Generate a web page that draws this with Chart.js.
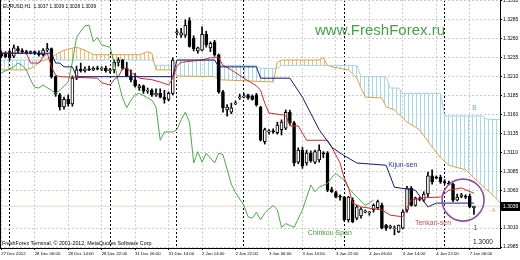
<!DOCTYPE html>
<html>
<head>
<meta charset="utf-8">
<script src="https://cdn.jsdelivr.net/npm/chart.js@4.4.1/dist/chart.umd.min.js"></script>
<style>
    html, body { margin: 0; padding: 0; background: #fff; overflow: hidden; }
    #wrap { width: 520px; height: 260px; }
</style>
</head>
<body>
<div id="wrap"><canvas id="chart" width="520" height="260"></canvas></div>
<script>
// EURUSD H1, bar 0 = 27 Dec 2012 22:00, last bar = 7 Jan 07:00
const OPEN = [
    1.3241, 1.3240, 1.3243, 1.3237, 1.3247, 1.3244, 1.3243, 1.3241, 1.3243, 1.3241,
    1.3239, 1.3245, 1.3247, 1.3210, 1.3186, 1.3170, 1.3180, 1.3174, 1.3208, 1.3220,
    1.3218, 1.3220, 1.3219, 1.3221, 1.3220, 1.3221, 1.3218, 1.3219, 1.3229, 1.3232,
    1.3221, 1.3211, 1.3206, 1.3195, 1.3198, 1.3191, 1.3192, 1.3186, 1.3188, 1.3183,
    1.3180, 1.3188, 1.3268, 1.3265, 1.3265, 1.3284, 1.3261, 1.3244, 1.3245, 1.3266,
    1.3248, 1.3256, 1.3239, 1.3190, 1.3166, 1.3163, 1.3174, 1.3182, 1.3183, 1.3186,
    1.3184, 1.3186, 1.3170, 1.3124, 1.3137, 1.3138, 1.3136, 1.3140, 1.3142, 1.3163,
    1.3149, 1.3097, 1.3113, 1.3096, 1.3109, 1.3097, 1.3100, 1.3109, 1.3109, 1.3061,
    1.3057, 1.3052, 1.3051, 1.3021, 1.3047, 1.3023, 1.3026, 1.3031, 1.3030, 1.3034,
    1.3037, 1.3040, 1.3014, 1.3011, 1.3009, 1.3005, 1.3010, 1.3034, 1.3063, 1.3040,
    1.3049, 1.3047, 1.3055, 1.3079, 1.3077, 1.3077, 1.3071, 1.3069, 1.3068, 1.3047,
    1.3052, 1.3052, 1.3052, 1.3037,
];
const HIGH = [
    1.3244, 1.3243, 1.3245, 1.3252, 1.3250, 1.3247, 1.3245, 1.3244, 1.3244, 1.3244,
    1.3247, 1.3254, 1.3248, 1.3211, 1.3188, 1.3183, 1.3186, 1.3211, 1.3224, 1.3228,
    1.3223, 1.3224, 1.3223, 1.3224, 1.3223, 1.3224, 1.3221, 1.3232, 1.3235, 1.3233,
    1.3229, 1.3219, 1.3214, 1.3200, 1.3199, 1.3195, 1.3194, 1.3194, 1.3194, 1.3192,
    1.3190, 1.3235, 1.3272, 1.3274, 1.3285, 1.3288, 1.3264, 1.3249, 1.3276, 1.3270,
    1.3256, 1.3258, 1.3240, 1.3192, 1.3173, 1.3175, 1.3178, 1.3187, 1.3188, 1.3187,
    1.3186, 1.3188, 1.3171, 1.3142, 1.3140, 1.3141, 1.3150, 1.3153, 1.3166, 1.3166,
    1.3151, 1.3116, 1.3117, 1.3113, 1.3112, 1.3113, 1.3120, 1.3111, 1.3111, 1.3064,
    1.3059, 1.3054, 1.3052, 1.3052, 1.3050, 1.3040, 1.3037, 1.3034, 1.3032, 1.3042,
    1.3047, 1.3043, 1.3015, 1.3014, 1.3013, 1.3014, 1.3034, 1.3065, 1.3065, 1.3051,
    1.3051, 1.3058, 1.3084, 1.3087, 1.3079, 1.3080, 1.3074, 1.3072, 1.3069, 1.3055,
    1.3056, 1.3054, 1.3055, 1.3039,
];
const LOW = [
    1.3235, 1.3235, 1.3232, 1.3235, 1.3241, 1.3241, 1.3240, 1.3240, 1.3239, 1.3237,
    1.3237, 1.3243, 1.3208, 1.3184, 1.3166, 1.3167, 1.3171, 1.3171, 1.3206, 1.3216,
    1.3216, 1.3218, 1.3218, 1.3219, 1.3218, 1.3216, 1.3215, 1.3215, 1.3224, 1.3219,
    1.3210, 1.3203, 1.3196, 1.3192, 1.3188, 1.3188, 1.3184, 1.3184, 1.3182, 1.3175,
    1.3178, 1.3186, 1.3265, 1.3262, 1.3262, 1.3249, 1.3244, 1.3241, 1.3244, 1.3249,
    1.3243, 1.3237, 1.3188, 1.3163, 1.3158, 1.3161, 1.3173, 1.3180, 1.3182, 1.3180,
    1.3179, 1.3171, 1.3125, 1.3121, 1.3134, 1.3135, 1.3134, 1.3133, 1.3140, 1.3146,
    1.3092, 1.3095, 1.3089, 1.3093, 1.3097, 1.3095, 1.3097, 1.3103, 1.3058, 1.3057,
    1.3050, 1.3047, 1.3019, 1.3018, 1.3017, 1.3021, 1.3023, 1.3030, 1.3027, 1.3031,
    1.3035, 1.3009, 1.3007, 1.3009, 1.3001, 1.3004, 1.3009, 1.3031, 1.3039, 1.3039,
    1.3046, 1.3045, 1.3051, 1.3068, 1.3075, 1.3069, 1.3068, 1.3067, 1.3045, 1.3046,
    1.3050, 1.3049, 1.3037, 1.3028,
];
const CLOSE = [
    1.3237, 1.3236, 1.3235, 1.3248, 1.3244, 1.3243, 1.3241, 1.3243, 1.3241, 1.3239,
    1.3245, 1.3247, 1.3210, 1.3187, 1.3170, 1.3180, 1.3174, 1.3208, 1.3219, 1.3218,
    1.3220, 1.3219, 1.3221, 1.3220, 1.3221, 1.3218, 1.3219, 1.3229, 1.3232, 1.3221,
    1.3211, 1.3206, 1.3198, 1.3198, 1.3191, 1.3192, 1.3186, 1.3188, 1.3183, 1.3180,
    1.3188, 1.3232, 1.3269, 1.3268, 1.3278, 1.3250, 1.3247, 1.3248, 1.3266, 1.3252,
    1.3254, 1.3239, 1.3190, 1.3169, 1.3170, 1.3169, 1.3174, 1.3183, 1.3184, 1.3182,
    1.3180, 1.3173, 1.3126, 1.3140, 1.3138, 1.3137, 1.3146, 1.3150, 1.3163, 1.3149,
    1.3096, 1.3113, 1.3092, 1.3109, 1.3099, 1.3111, 1.3113, 1.3108, 1.3060, 1.3058,
    1.3051, 1.3051, 1.3021, 1.3051, 1.3018, 1.3038, 1.3035, 1.3031, 1.3030, 1.3040,
    1.3045, 1.3010, 1.3010, 1.3011, 1.3009, 1.3014, 1.3031, 1.3063, 1.3040, 1.3050,
    1.3048, 1.3055, 1.3079, 1.3071, 1.3076, 1.3071, 1.3070, 1.3068, 1.3047, 1.3051,
    1.3054, 1.3051, 1.3038, 1.3039,
];

// Ichimoku lines as [bar, price] vertices
const TENKAN = [
    [0, 1.3241], [6, 1.3241], [7, 1.3228], [9, 1.3228], [10, 1.3236], [11, 1.3241], [12, 1.3223],
    [13, 1.3212], [14, 1.3210], [23, 1.3208], [24, 1.3202], [26, 1.3199], [27, 1.3206], [28, 1.3210],
    [29, 1.3221], [30, 1.3221], [31, 1.3216], [33, 1.3208], [36, 1.3206], [38, 1.3203], [40, 1.3199],
    [41, 1.3208], [42, 1.3224], [43, 1.3229], [48, 1.3232], [50, 1.3235], [52, 1.3235], [53, 1.3225],
    [55, 1.3219], [58, 1.3208], [61, 1.3198], [62, 1.3192], [63, 1.3175], [64, 1.3162], [68, 1.3159],
    [69, 1.3145], [71, 1.3145], [73, 1.3126], [78, 1.3126], [79, 1.3117], [81, 1.3096], [82, 1.3076],
    [83, 1.3064], [84, 1.3043], [86, 1.3038], [91, 1.3034], [93, 1.3027], [96, 1.3025], [97, 1.3037],
    [98, 1.3047], [101, 1.3050], [105, 1.3051], [107, 1.3060], [110, 1.3063], [113, 1.3056],
];
const KIJUN = [
    [0, 1.3241], [12, 1.3241], [13, 1.3228], [14, 1.3228], [15, 1.3223], [17, 1.3223], [18, 1.3210],
    [41, 1.3210], [42, 1.3232], [51, 1.3232], [52, 1.3223], [61, 1.3223], [62, 1.3208], [69, 1.3208],
    [72, 1.3183], [76, 1.3140], [79, 1.3117], [81, 1.3109], [85, 1.3096], [92, 1.3093], [94, 1.3064],
    [99, 1.3060], [102, 1.3038], [104, 1.3043], [113, 1.3043],
];
const SPAN_A = [
    [0, 1.3219], [6, 1.3219], [8, 1.3223], [9, 1.3229], [12, 1.3236], [13, 1.3239], [15, 1.3245],
    [18, 1.3249], [20, 1.3245], [22, 1.3239], [33, 1.3239], [35, 1.3243], [36, 1.3241], [37, 1.3219],
    [41, 1.3219], [42, 1.3211], [51, 1.3210], [52, 1.3206], [65, 1.3203], [66, 1.3229], [67, 1.3232],
    [76, 1.3232], [77, 1.3235], [78, 1.3225], [79, 1.3223], [83, 1.3219], [85, 1.3208], [86, 1.3195],
    [87, 1.3183], [91, 1.3182], [92, 1.3170], [94, 1.3166], [97, 1.3150], [100, 1.3140], [103, 1.3117],
    [105, 1.3103], [107, 1.3093], [111, 1.3087], [114, 1.3071], [118, 1.3051], [119.3, 1.3043],
];
const SPAN_B = [
    [0, 1.3232], [36, 1.3232], [37, 1.3225], [41, 1.3225], [42, 1.3232], [51, 1.3232], [52, 1.3225],
    [61, 1.3225], [62, 1.3221], [66, 1.3221], [67, 1.3225], [85, 1.3225], [86, 1.3210], [92, 1.3210],
    [93, 1.3195], [95, 1.3195], [96, 1.3188], [105, 1.3188], [106, 1.3158], [115, 1.3158],
    [116, 1.3154], [119.3, 1.3153],
];
const CHIKOU = [
    [0, 1.3215], [3, 1.3223], [4, 1.3228], [5, 1.3225], [6, 1.3219], [7, 1.3206], [8, 1.3196],
    [9, 1.3195], [10, 1.3199], [12, 1.3192], [13, 1.3188], [14, 1.3192], [16, 1.3203], [17, 1.3229],
    [18, 1.3262], [19, 1.3270], [20, 1.3277], [21, 1.3278], [22, 1.3256], [23, 1.3262], [24, 1.3252],
    [26, 1.3249], [27, 1.3229], [28, 1.3203], [29, 1.3182], [30, 1.3169], [31, 1.3179], [32, 1.3186],
    [33, 1.3188], [35, 1.3182], [36, 1.3179], [37, 1.3170], [38, 1.3126], [39, 1.3137], [41, 1.3137],
    [42, 1.3140], [43, 1.3153], [44, 1.3163], [45, 1.3150], [46, 1.3096], [47, 1.3111], [48, 1.3097],
    [49, 1.3109], [51, 1.3096], [52, 1.3109], [53, 1.3107], [55, 1.3068], [56, 1.3057], [58, 1.3040],
    [59, 1.3025], [60, 1.3023], [61, 1.3031], [62, 1.3021], [63, 1.3030], [65, 1.3040], [66, 1.3034],
    [67, 1.3011], [68, 1.3016], [70, 1.3011], [72, 1.3034], [74, 1.3067], [75, 1.3058], [76, 1.3064],
    [78, 1.3069], [79, 1.3077], [80, 1.3082], [82, 1.3073], [83, 1.3063], [85, 1.3051], [87, 1.3040],
    [88, 1.3043], [89, 1.3047],
];

const LAST_PRICE = 1.3039;
const Y_TICKS = [1.2985, 1.3010, 1.3060, 1.3085, 1.3110, 1.3135, 1.3160, 1.3185, 1.3210, 1.3235, 1.3260, 1.3285, 1.3310];
const X_TICK_BARS = [0, 8, 16, 24, 32, 40, 48, 56, 64, 72, 80, 88, 96, 104, 112];
const X_TICK_LABELS = [
    '27 Dec 2012', '28 Dec 06:00', '28 Dec 14:00', '28 Dec 22:00', '31 Dec 06:00', '31 Dec 14:00',
    '2 Jan 14:00', '2 Jan 22:00', '3 Jan 06:00', '3 Jan 14:00', '3 Jan 22:00', '4 Jan 06:00',
    '4 Jan 14:00', '4 Jan 22:00', '7 Jan 06:00',
];
const DAY_STARTS = [2, 26, 42, 58, 82, 106];

const HEADER = 'EURUSD,H1  1.3037 1.3039 1.3028 1.3039';
const FOOTER = 'FreshForex Terminal, \u00a9 2001-2012, MetaQuotes Software Corp.';

const FONT = '"Liberation Sans", Arial, sans-serif';
Chart.defaults.font.family = FONT;

function hatch( colour ) {
    const c = document.createElement( 'canvas' );
    c.width = 4;
    c.height = 4;
    const g = c.getContext( '2d' );
    g.fillStyle = colour;
    g.fillRect( 0, 0, 1, 4 );
    return g.createPattern( c, 'repeat' );
}

const pts = ( arr ) => arr.map( ( [ x, y ] ) => ( { x, y } ) );
const lineDs = ( label, data, colour, order ) => ( {
    type: 'line', label, data: pts( data ), borderColor: colour, borderWidth: 1,
    pointRadius: 0, tension: 0, fill: false, order,
} );

const overlay = {
    id: 'overlay',
    afterDraw( chart ) {
        const { ctx, chartArea: a, scales: { x, y } } = chart;
        const font = ( s ) => `${ s }px ${ FONT }`;
        ctx.save();

        // left edge of the chart frame
        ctx.fillStyle = '#000';
        ctx.fillRect( a.left, a.top, 1, a.bottom - a.top );

        ctx.textAlign = 'left';
        ctx.textBaseline = 'middle';
        ctx.font = font( 4.8 );
        ctx.fillText( HEADER, a.left + 3, a.top + 7 );
        ctx.font = font( 5.3 );
        ctx.fillText( FOOTER, a.left + 2, a.bottom - 4 );

        ctx.fillStyle = '#46a046';
        ctx.font = font( 15 );
        ctx.textBaseline = 'alphabetic';
        ctx.fillText( 'www.FreshForex.ru', a.left + 315, a.top + 35 );

        ctx.textBaseline = 'middle';
        const notes = [
            [ 'Kijun-sen', 92.5, 1.3093, '#2b3990', 7 ],
            [ 'Tenkan-sen', 98.9, 1.3016, '#c0504d', 7 ],
            [ 'Chinkou Span', 73.3, 1.3003, '#3d9e3d', 7 ],
            [ 'B', 112.6, 1.3169, '#62a8b8', 6.5 ],
            [ 'A', 117.2, 1.3034, '#d8a050', 6 ],
            [ '1', 112.9, 1.3010, '#444', 6.5 ],
            [ '1.3000', 112.8, 1.2992, '#222', 6.5 ],
        ];
        notes.forEach( ( [ t, bar, price, colour, size ] ) => {
            ctx.fillStyle = colour;
            ctx.font = font( size );
            ctx.fillText( t, x.getPixelForValue( bar ), y.getPixelForValue( price ) );
        } );

        // marker circle round the last bars
        ctx.strokeStyle = '#8b4f9e';
        ctx.lineWidth = 1.6;
        ctx.beginPath();
        ctx.arc( x.getPixelForValue( 110.4 ), y.getPixelForValue( 1.3047 ), 21, 0, Math.PI * 2 );
        ctx.stroke();

        // current price box on the price scale
        const py = Math.round( y.getPixelForValue( LAST_PRICE ) );
        ctx.fillStyle = '#000';
        ctx.fillRect( a.right + 1, py - 4, 19, 9 );
        ctx.fillStyle = '#fff';
        ctx.font = font( 5 );
        ctx.fillText( LAST_PRICE.toFixed( 4 ), a.right + 3, py + 0.5 );

        ctx.restore();
    },
};

new Chart( document.getElementById( 'chart' ), {
    type: 'bar',
    data: {
        datasets: [
            {
                ...lineDs( 'Senkou Span A', SPAN_A, '#d9a441', 10 ),
                fill: { target: '+1', above: hatch( '#eebf72' ), below: hatch( '#a9d8e6' ) },
            },
            lineDs( 'Senkou Span B', SPAN_B, '#a3d2e3', 9 ),
            {
                type: 'line', label: 'bid', data: [ { x: -1, y: LAST_PRICE }, { x: 121, y: LAST_PRICE } ],
                borderColor: '#e2d8c8', borderWidth: 1, pointRadius: 0, order: 8,
            },
            {
                type: 'bar', label: 'wicks',
                data: OPEN.map( ( o, i ) => ( { x: i, y: [ LOW[ i ], HIGH[ i ] ] } ) ),
                backgroundColor: '#000', barThickness: 1, grouped: false, order: 6,
            },
            {
                type: 'bar', label: 'bodies',
                data: OPEN.map( ( o, i ) => ( { x: i, y: [ o, CLOSE[ i ] ] } ) ),
                backgroundColor: ( c ) => CLOSE[ c.dataIndex ] >= OPEN[ c.dataIndex ] ? '#fff' : '#000',
                borderColor: '#000', borderWidth: 1, borderSkipped: false,
                barThickness: 3, minBarLength: 1, grouped: false, order: 5,
            },
            lineDs( 'Chinkou Span', CHIKOU, '#48aa48', 4 ),
            lineDs( 'Tenkan-sen', TENKAN, '#cc2a2a', 3 ),
            lineDs( 'Kijun-sen', KIJUN, '#16166e', 2 ),
        ],
    },
    options: {
        responsive: false,
        animation: false,
        devicePixelRatio: 1,
        events: [],
        layout: { padding: 0 },
        plugins: { legend: { display: false }, tooltip: { enabled: false } },
        scales: {
            x: {
                type: 'linear', min: -0.3, max: 119.23, offset: false,
                afterBuildTicks: ( ax ) => {
                    ax.ticks = [ ...X_TICK_BARS, ...DAY_STARTS ].sort( ( p, q ) => p - q ).map( ( v ) => ( { value: v } ) );
                },
                afterFit: ( ax ) => { ax.height = 12; ax.paddingLeft = 0; ax.paddingRight = 0; },
                ticks: {
                    autoSkip: false, maxRotation: 0, minRotation: 0, align: 'start', padding: 1,
                    color: '#000', font: { size: 4.3 },
                    callback: ( v ) => {
                        const k = X_TICK_BARS.indexOf( v );
                        return k >= 0 ? X_TICK_LABELS[ k ] : '';
                    },
                },
                grid: {
                    offset: false, lineWidth: 1, tickLength: 2,
                    color: ( c ) => DAY_STARTS.includes( c.tick?.value ) ? '#000' : '#cccccc',
                    tickColor: ( c ) => DAY_STARTS.includes( c.tick?.value ) ? 'rgba(0,0,0,0)' : '#000',
                },
                border: { display: true, color: '#000', dash: [ 2, 2 ] },
            },
            y: {
                position: 'right', min: 1.29837, max: 1.33113,
                afterBuildTicks: ( ax ) => { ax.ticks = Y_TICKS.map( ( v ) => ( { value: v } ) ); },
                afterFit: ( ax ) => { ax.width = 20; ax.paddingTop = 0; ax.paddingBottom = 0; },
                ticks: { padding: 1, color: '#000', font: { size: 5 }, callback: ( v ) => v.toFixed( 4 ) },
                grid: { color: '#cccccc', tickColor: '#000', tickLength: 2 },
                border: { display: true, color: '#000', dash: [ 2, 2 ] },
            },
        },
    },
    plugins: [ overlay ],
} );
</script>
</body>
</html>
